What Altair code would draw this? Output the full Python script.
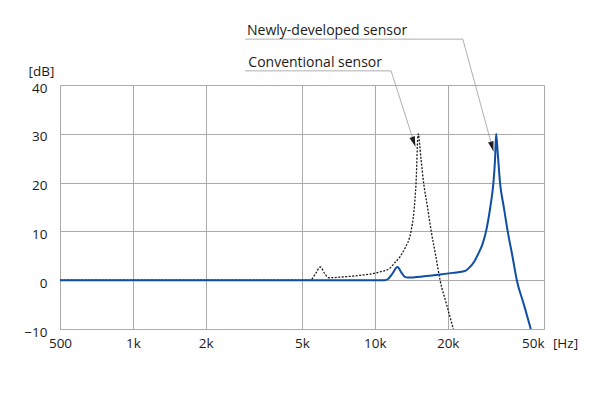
import altair as alt
import pandas as pd

# ---- data ----
new_freq = [500, 11000, 11300, 11800, 12400, 12900, 13300, 13700, 16000, 18600, 21000, 23600,
            24700, 25800, 26800, 27900, 28800, 30000, 30900, 31400, 31700,
            32200, 32900, 34100, 35400, 37000, 38600, 41300, 44100]
new_db = [0, 0, 0.2, 1.3, 2.7, 1.5, 0.7, 0.55, 0.8, 1.15, 1.5, 1.9,
          2.7, 3.9, 5.5, 7.5, 10, 15, 20, 25, 30,
          26, 20, 15, 10, 5, 0, -5, -10]

conv_freq = [500, 5400, 5700, 5950, 6200, 6450, 7500, 8700, 10500, 11500, 12100, 12700,
             13300, 14100, 14500, 14800, 15100, 15500, 15900, 16500, 17100, 17850, 18600,
             19800, 21100]
conv_db = [0, 0, 1.4, 2.7, 1.4, 0.5, 0.7, 1.0, 1.7, 2.4, 3.6, 4.8,
           6.5, 10, 14, 20, 30, 25, 20, 15, 10, 5, 0,
           -5, -10]

x_ticks = [500, 1000, 2000, 5000, 10000, 20000, 50000]
y_ticks = [-10, 0, 10, 20, 30, 40]

labels = ["Newly-developed sensor", "Conventional sensor"]
label_freq = [2963, 3000]
label_db = [51.1, 44.6]
# leader line: underline start, underline end, arrow tip
leader_freq = [[2912, 23100, 30900], [2912, 11670, 14700]]
leader_db = [[49.4, 49.4, 26.4], [42.9, 42.9, 27.4]]
arrow_angle = [344.8, 341.6]

BLUE = "#0f4ea3"
FONT = "Open Sans"

new_df = pd.DataFrame({"f": new_freq, "db": new_db, "i": range(len(new_freq))})
conv_df = pd.DataFrame({"f": conv_freq, "db": conv_db, "i": range(len(conv_freq))})
lab_df = pd.DataFrame({"label": labels, "f": label_freq, "db": label_db})
lead_rows = []
for k, lab in enumerate(labels):
    for j in range(3):
        lead_rows.append({"label": lab, "o": j, "f": leader_freq[k][j], "db": leader_db[k][j]})
lead_df = pd.DataFrame(lead_rows)
arrow_df = pd.DataFrame({"label": labels,
                         "f": [leader_freq[0][2], leader_freq[1][2]],
                         "db": [leader_db[0][2], leader_db[1][2]],
                         "ang": arrow_angle})

xscale = alt.Scale(type="log", domain=[500, 50000], nice=False)
yscale = alt.Scale(domain=[-10, 40], nice=False, zero=False)

common = dict(labelFont=FONT, labelFontSize=13.5, labelColor="#1a1a1a",
              titleFont=FONT, titleFontSize=13.5, titleColor="#1a1a1a", titleFontWeight="normal",
              gridColor="#aaaaaa", gridWidth=1, grid=True, ticks=False, domain=False)

xaxis = alt.Axis(values=x_ticks,
                 labelExpr="datum.value >= 1000 ? (datum.value/1000) + 'k' : datum.value",
                 labelAlign=alt.expr("datum.value == 50000 ? 'right' : 'center'"),
                 title="[Hz]", titleAngle=0, titleX=505, titleY=14, titleBaseline="middle",
                 titleAlign="center", labelPadding=7, **common)
yaxis = alt.Axis(values=y_ticks, title="[dB]", titleAngle=0, titleX=-19, titleY=-14,
                 titleAlign="center", titleBaseline="middle",
                 labelPadding=13, labelOffset=3, **common)

X = alt.X("f:Q", scale=xscale, axis=xaxis)
Y = alt.Y("db:Q", scale=yscale, axis=yaxis)
Xn = alt.X("f:Q", scale=xscale)
Yn = alt.Y("db:Q", scale=yscale)

conv = alt.Chart(conv_df).mark_line(color="#1a1a1a", strokeWidth=1.3, strokeDash=[2, 1.5],
                                    interpolate="monotone", clip=True).encode(
    x=X, y=Y, order="i:Q")
new = alt.Chart(new_df).mark_line(color=BLUE, strokeWidth=2, interpolate="monotone",
                                  clip=True).encode(x=Xn, y=Yn, order="i:Q")
leaders = alt.Chart(lead_df).mark_line(color="#9a9a9a", strokeWidth=0.8, clip=False).encode(
    x=Xn, y=Yn, detail="label:N", order="o:Q")
arrows = alt.Chart(arrow_df).mark_point(shape="M0,0L-0.28,-1L0.28,-1Z", size=400, filled=True,
                                        opacity=1, color="#231f20", clip=False).encode(
    x=Xn, y=Yn, angle=alt.Angle("ang:Q", scale=None))
texts = alt.Chart(lab_df).mark_text(align="left", baseline="middle", fontSize=14,
                                    font=FONT, color="#1a1a1a", clip=False).encode(
    x=Xn, y=Yn, text="label:N")

chart = alt.layer(conv, new, leaders, arrows, texts).properties(
    width=484, height=244,
    autosize=alt.AutoSizeParams(type="none"),
    padding={"left": 52, "top": 77, "right": 44, "bottom": 59},
).configure_view(stroke="#333333", strokeWidth=1).configure(background="white")

chart.save("out.html", embed_options={"renderer": "svg", "actions": False})
